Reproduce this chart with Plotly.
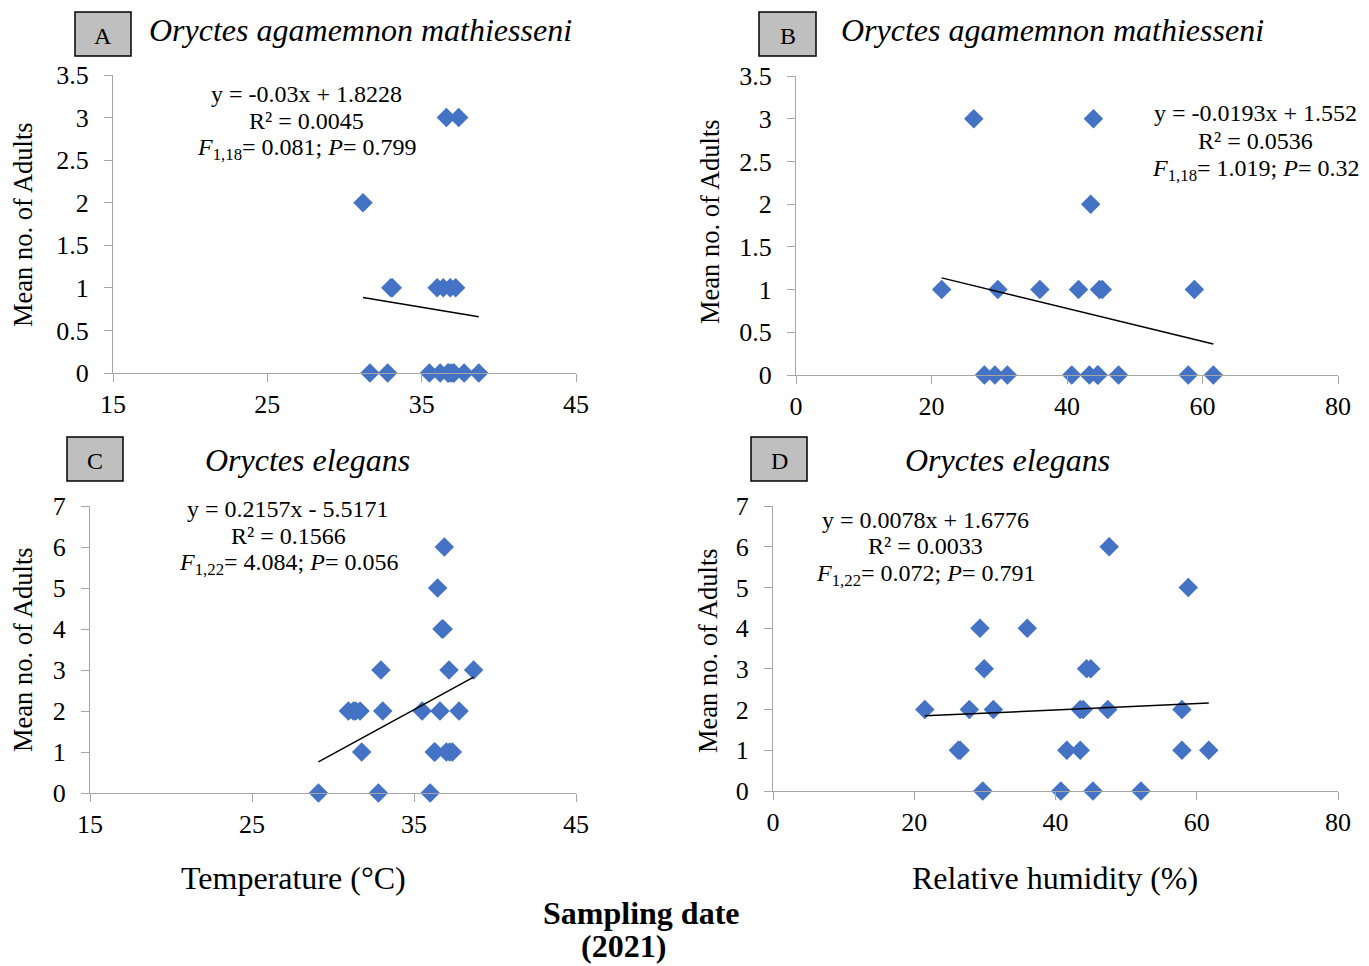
import plotly.graph_objects as go

# ---------------- data ----------------
# Panel A: O. agamemnon mathiesseni vs temperature
a_temp = [36.6, 37.4, 31.2, 33.0, 33.1, 36.0, 36.4, 36.85, 37.2,
          31.65, 32.8, 35.5, 36.2, 36.7, 36.75, 37.05, 37.1, 37.75, 38.7, 36.9]
a_adults = [3, 3, 2, 1, 1, 1, 1, 1, 1,
            0, 0, 0, 0, 0, 0, 0, 0, 0, 0, 0]
a_slope, a_intercept = -0.03, 1.8228

# Panel B: O. agamemnon mathiesseni vs relative humidity
b_rh = [26.25, 43.9, 43.5, 21.5, 29.8, 36.0, 41.7, 44.8, 45.2, 58.8,
        27.8, 29.35, 31.2, 40.7, 43.3, 44.5, 47.6, 57.9, 61.6, 44.6]
b_adults = [3, 3, 2, 1, 1, 1, 1, 1, 1, 1,
            0, 0, 0, 0, 0, 0, 0, 0, 0, 0]
b_slope, b_intercept = -0.0193, 1.552

# Panel C: O. elegans vs temperature
c_temp = [36.87, 36.46, 36.73, 36.8, 32.96, 37.16, 38.68,
          30.95, 31.26, 31.4, 31.67, 33.07, 35.5, 36.6, 37.78,
          31.77, 36.25, 37.0, 37.2, 37.37, 29.1, 32.8, 36.0, 36.3]
c_adults = [6, 5, 4, 4, 3, 3, 3,
            2, 2, 2, 2, 2, 2, 2, 2,
            1, 1, 1, 1, 1, 0, 0, 0, 1]
c_slope, c_intercept = 0.2157, -5.5171

# Panel D: O. elegans vs relative humidity
d_rh = [47.6, 58.8, 29.3, 36.0, 29.9, 44.4, 45.0,
        21.5, 27.8, 31.2, 43.5, 43.9, 47.4, 57.9,
        26.25, 26.5, 41.6, 43.5, 57.9, 61.7,
        29.7, 40.75, 45.3, 52.1]
d_adults = [6, 5, 4, 4, 3, 3, 3,
            2, 2, 2, 2, 2, 2, 2,
            1, 1, 1, 1, 1, 1,
            0, 0, 0, 0]
d_slope, d_intercept = 0.0078, 1.6776

panels = [
    dict(x=a_temp, y=a_adults, m=a_slope, b=a_intercept, ax="", xr=[15, 45], xd=10, yr=[0, 3.5], yd=0.5),
    dict(x=b_rh, y=b_adults, m=b_slope, b=b_intercept, ax="2", xr=[0, 80], xd=20, yr=[0, 3.5], yd=0.5),
    dict(x=c_temp, y=c_adults, m=c_slope, b=c_intercept, ax="3", xr=[15, 45], xd=10, yr=[0, 7], yd=1),
    dict(x=d_rh, y=d_adults, m=d_slope, b=d_intercept, ax="4", xr=[0, 80], xd=20, yr=[0, 7], yd=1),
]

W, H = 1369, 966
SERIF = "Liberation Serif, Times New Roman, serif"
BLUE = "#4472C4"

# plot areas in pixels (left, right, top, bottom)
boxes = [(113, 576, 75, 373), (796, 1338, 76, 375), (90, 576, 506, 793), (773, 1338, 506, 791)]

fig = go.Figure()
layout = dict(width=W, height=H, margin=dict(l=0, r=0, t=0, b=0, pad=0, autoexpand=False),
              template="none",
              paper_bgcolor="white", plot_bgcolor="white", showlegend=False,
              font=dict(family=SERIF, color="black", size=22))

for p, (l, r, t, bt) in zip(panels, boxes):
    xa = "x" + p["ax"]
    ya = "y" + p["ax"]
    fig.add_trace(go.Scatter(x=p["x"], y=p["y"], mode="markers", xaxis=xa, yaxis=ya,
                             cliponaxis=False,
                             marker=dict(symbol="diamond", size=15, color=BLUE)))
    x0, x1 = min(p["x"]), max(p["x"])
    fig.add_trace(go.Scatter(x=[x0, x1], y=[p["m"] * x0 + p["b"], p["m"] * x1 + p["b"]],
                             mode="lines", xaxis=xa, yaxis=ya, cliponaxis=False,
                             line=dict(color="black", width=1.5)))
    axcommon = dict(showgrid=False, zeroline=False, showline=True, linecolor="#a6a6a6",
                    linewidth=1.3, ticks="outside", ticklen=8, tickcolor="#a6a6a6",
                    automargin=False,
                    tickfont=dict(family=SERIF, size=26, color="black"))
    layout["xaxis" + p["ax"]] = dict(domain=[l / W, r / W], range=p["xr"], dtick=p["xd"],
                                     tick0=p["xr"][0], anchor=ya, **axcommon)
    layout["yaxis" + p["ax"]] = dict(domain=[1 - bt / H, 1 - t / H], range=p["yr"], dtick=p["yd"],
                                     tick0=0, anchor=xa, ticklabelstandoff=10, **axcommon)

fig.update_layout(**layout)

def ann(text, x, y, size=22, **kw):
    fig.add_annotation(text=text, x=x / W, y=1 - y / H, xref="paper", yref="paper",
                       xanchor="center", yanchor="middle",
                       showarrow=False, font=dict(family=SERIF, size=size, color="black"),
                       **kw)

# panel titles
ann("<i>Oryctes agamemnon mathiesseni</i>", 360, 30, size=32)
ann("<i>Oryctes agamemnon mathiesseni</i>", 1052, 30, size=32)
ann("<i>Oryctes elegans</i>", 307, 460, size=32)
ann("<i>Oryctes elegans</i>", 1007, 460, size=32)

# letter boxes
for letter, (bx0, bx1, by0, by1) in zip(["A", "B", "C", "D"],
                                        [(75, 131, 12, 56), (759, 816, 12, 56),
                                         (67, 123, 437, 481), (751, 807, 437, 481)]):
    fig.add_shape(type="rect", xref="paper", yref="paper",
                  x0=bx0 / W, x1=bx1 / W, y0=1 - by1 / H, y1=1 - by0 / H,
                  fillcolor="#bfbfbf", line=dict(color="black", width=1.5))
    ann(letter, (bx0 + bx1) / 2, (by0 + by1) / 2 + 2, size=24)

# equations (one annotation per line)
eqs = [
    (["y = -0.03x + 1.8228", "R² = 0.0045",
      "<i>F</i><sub>1,18</sub>= 0.081; <i>P</i>= 0.799"], 306, [94, 121, 149]),
    (["y = -0.0193x + 1.552", "R² = 0.0536",
      "<i>F</i><sub>1,18</sub>= 1.019; <i>P</i>= 0.32"], 1255, [113, 141, 170]),
    (["y = 0.2157x - 5.5171", "R² = 0.1566",
      "<i>F</i><sub>1,22</sub>= 4.084; <i>P</i>= 0.056"], 288, [509, 536, 564]),
    (["y = 0.0078x + 1.6776", "R² = 0.0033",
      "<i>F</i><sub>1,22</sub>= 0.072; <i>P</i>= 0.791"], 926, [520, 546, 575]),
]
for lines, cx, ys in eqs:
    for txt, cy in zip(lines, ys):
        ann(txt, cx, cy, size=24)

# y-axis titles
for cx, cy in [(23, 225), (710, 222), (23, 650), (708, 650)]:
    ann("Mean no. of Adults", cx, cy, size=26.5, textangle=-90)

# x-axis titles
ann("Temperature (°C)", 293, 878, size=32)
ann("Relative humidity (%)", 1055, 878, size=32)
ann("<b>Sampling date</b>", 641, 913, size=32)
ann("<b>(2021)</b>", 623, 946, size=32)

fig.write_html("out.html")
